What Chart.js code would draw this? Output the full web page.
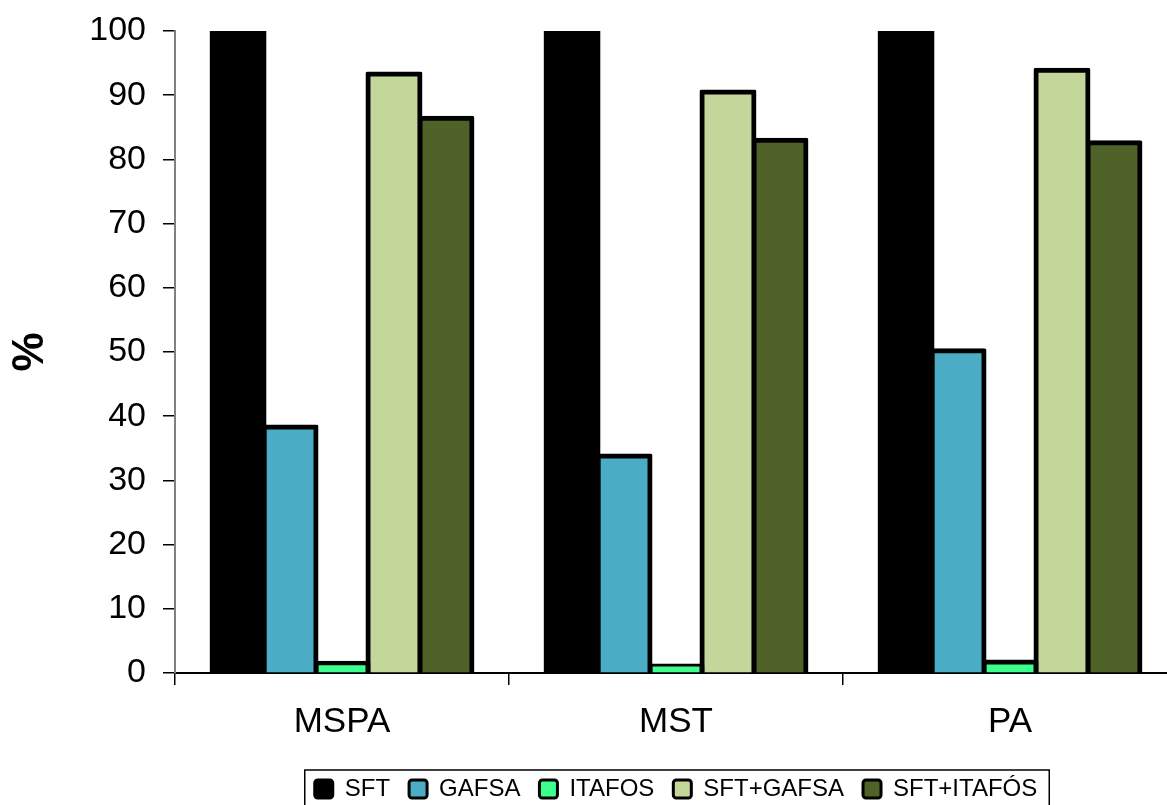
<!DOCTYPE html>
<html>
<head>
<meta charset="utf-8">
<script src="https://cdn.jsdelivr.net/npm/chart.js@4/dist/chart.umd.min.js"></script>
<style>
  html, body { margin: 0; padding: 0; background: #fff; overflow: hidden; }
</style>
</head>
<body>
<canvas id="chart" width="1180" height="815"></canvas>
<script>
// categories and series
const categories = ['MSPA', 'MST', 'PA'];
const seriesNames = ['SFT', 'GAFSA', 'ITAFOS', 'SFT+GAFSA', 'SFT+ITAFÓS'];
const sft = [100, 100, 100];
const gafsa = [38.3, 33.8, 50.2];
const itafos = [1.5, 1.1, 1.7];
const sftGafsa = [93.3, 90.5, 93.9];
const sftItafos = [86.4, 83.0, 82.6];
const seriesColors = ['#000000', '#4BACC6', '#3DFF8E', '#C4D79B', '#4F6228'];

const FONT = 'Liberation Sans, Arial, sans-serif';

/** @desc one bar dataset with the shared black outline */
function makeDataset(label, data, color) {
    return {
        label: label,
        data: data,
        backgroundColor: color,
        borderColor: '#000000',
        borderWidth: 5,
        inflateAmount: 2.5, // centre the outline on the bar edge
        borderRadius: 2,
        categoryPercentage: 0.778,
        barPercentage: 1.0
    };
}

const allData = [sft, gafsa, itafos, sftGafsa, sftItafos];

// frame around the legend, like the spreadsheet chart
const legendFrame = {
    id: 'legendFrame',
    afterDraw(chart) {
        const boxes = chart.legend.legendHitBoxes;
        if (!boxes || !boxes.length) return;
        const first = boxes[0];
        const last = boxes[boxes.length - 1];
        const ctx = chart.ctx;
        const left = first.left - 10;
        const right = last.left + last.width + 12;
        const top = first.top - 7;
        ctx.save();
        ctx.strokeStyle = '#000';
        ctx.lineWidth = 1.5;
        ctx.strokeRect(left, top, right - left, chart.height + 10 - top);
        ctx.restore();
    }
};

const CONFIG = {
    type: 'bar',
    data: {
        labels: categories,
        datasets: seriesNames.map((name, i) => makeDataset(name, allData[i], seriesColors[i]))
    },
    options: {
        responsive: false,
        devicePixelRatio: 1,
        animation: false,
        layout: { padding: { top: 31, right: 3, bottom: 4, left: 0 } },
        scales: {
            x: {
                afterFit(scale) { scale.height = 85; },
                grid: { drawOnChartArea: false, offset: true, tickLength: 12, color: '#000', lineWidth: 1.5 },
                border: { display: true, color: '#000', width: 2 },
                ticks: { color: '#000', padding: 16, font: { family: FONT, size: 35 } }
            },
            y: {
                min: 0,
                max: 100,
                afterFit(scale) {
                    scale.width = 175;
                    scale.paddingTop = 10; // tick padding should not push the plot down
                    scale.paddingBottom = 10;
                },
                grid: { drawOnChartArea: false, tickLength: 12, color: '#000', lineWidth: 1.5 },
                border: { display: true, color: '#808080', width: 2 },
                ticks: { stepSize: 10, color: '#000', padding: 17, font: { family: FONT, size: 34 } },
                title: {
                    display: true,
                    text: '%',
                    color: '#000',
                    padding: { top: 4, bottom: 4 },
                    font: { family: FONT, size: 44, weight: 'bold' }
                }
            }
        },
        plugins: {
            tooltip: { enabled: false },
            legend: {
                position: 'bottom',
                fullSize: false,
                labels: {
                    color: '#000',
                    boxWidth: 18,
                    boxHeight: 18,
                    padding: 19,
                    useBorderRadius: true,
                    borderRadius: 3,
                    font: { family: FONT, size: 24 },
                    generateLabels(chart) {
                        const items = Chart.defaults.plugins.legend.labels.generateLabels(chart);
                        items.forEach((item) => { item.lineWidth = 3; });
                        return items;
                    }
                }
            }
        }
    },
    plugins: [legendFrame]
};

new Chart(document.getElementById('chart'), CONFIG);
</script>
</body>
</html>
